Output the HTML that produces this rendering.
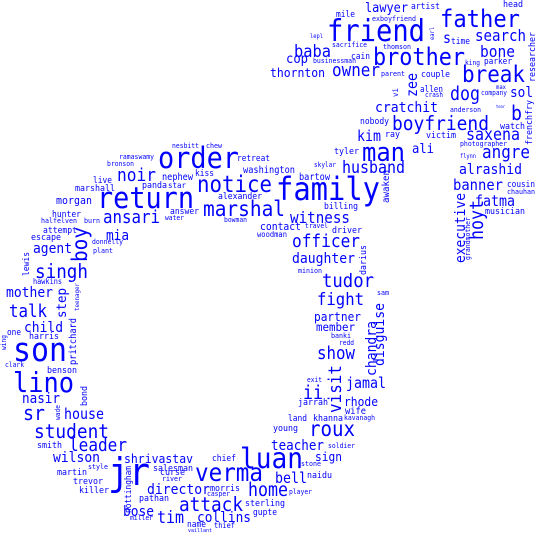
<!DOCTYPE html>
<html><head><meta charset="utf-8"><style>
html,body{margin:0;padding:0;background:#fff;}
svg{display:block;}
text{font-family:"DejaVu Sans Mono","Liberation Mono",monospace;fill:#0000ff;}
</style></head><body>
<svg id="cloud" width="538" height="538" viewBox="0 0 538 538" xmlns="http://www.w3.org/2000/svg">
<rect width="538" height="538" fill="#fff"/>
</svg>
<script>
const words=["family","friend","father","brother","break","return","order","notice","marshal","man","boyfriend","son","lino","jr","luan","verma","attack","collins","tim","director","leader","student","sr","house","nasir","wilson","shrivastav","bose","pathan","morris","home","sterling","gupte","bell","teacher","roux","sign","naidu","player","stone","soldier","young","land","khanna","kavanagh","jarrah","rhode","wife","ii","exit","jamal","show","redd","banki","member","partner","fight","sam","tudor","minion","daughter","officer","driver","travel","witness","contact","woodman","billing","bartow","husband","skylar","tyler","kim","ray","nobody","cratchit","owner","thornton","parent","couple","cop","baba","businessman","cain","sacrifice","thomson","lepl","mile","exboyfriend","lawyer","artist","head","s","time","search","bone","king","parker","dog","sol","allen","max","company","crash","anderson","tear","b","watch","victim","saxena","photographer","ali","angre","flynn","alrashid","banner","cousin","chauhan","fatma","musician","washington","retreat","alexander","kiss","nephew","panda","star","noir","live","marshall","morgan","ansari","answer","hunter","halfelven","burn","water","bowman","mia","attempt","escape","donnelly","plant","agent","ramaswamy","bronson","nesbitt","chew","singh","hawkins","mother","talk","child","one","harris","clark","benson","smith","martin","style","chief","salesman","curse","river","trevor","killer","miller","name","thief","vaillant","casper",
"boy","lewis","step","teenager","pritchard","wing","bond","wade","nottingham","zee","chandra","disguise","visit","awaken","darius","executive","hoyt","grandmother","researcher","frenchfry","vi","earl"];
const xs=[276,327,440,373,462,97,158,197,203,362,392,13,13,108,240,195,179,197,157,147,69,34,23,64,22,53,124,123,139,210,248,245,253,275,271,309,315,307,289,301,328,273,288,313,344,298,344,345,303,307,346,317,339,331,316,314,317,377,322,298,292,292,332,305,290,260,257,324,299,342,314,334,357,385,360,375,332,270,381,421,286,294,313,351,332,383,310,336,372,365,411,503,443,451,475,480,465,484,450,510,420,496,481,425,450,496,511,500,426,466,460,412,482,460,459,453,507,507,475,485,243,237,218,195,162,142,168,117,93,75,56,103,170,52,41,84,165,224,106,43,31,92,93,33,119,107,172,206,35,33,6,9,24,7,29,5,47,37,57,88,212,153,160,162,73,79,130,187,214,188,207,
87,29,66,79,76,6,87,60,131,417,376,384,341,389,366,465,483,470,535,532,398,434];
const ys=[200,41,27,65,82,208,168,192,216,161,130,361,392,485,468,481,511,522,523,494,451,438,420,419,403,462,463,516,501,491,496,506,515,483,450,436,461,478,494,466,448,431,421,421,420,405,406,414,399,382,388,359,345,338,331,321,305,295,287,273,263,247,233,228,223,230,237,209,180,173,167,154,141,137,124,112,76,77,76,77,63,57,63,59,47,49,38,17,21,12,9,7,43,44,41,57,65,64,100,97,92,89,95,97,112,108,120,129,138,140,146,153,158,158,174,190,187,194,206,214,173,161,199,176,180,188,188,181,183,191,204,223,214,217,223,223,220,222,240,233,240,244,253,253,159,166,148,148,278,284,297,317,332,335,339,367,373,448,475,469,461,471,475,481,484,493,520,527,528,532,496,
262,276,318,311,365,350,406,420,513,97,376,366,413,203,275,263,240,260,82,145,97,40];
const ws=[104,98,80,92,63,97,81,75,82,43,97,54,61,42,63,68,64,54,27,63,58,75,22,40,38,47,69,31,30,30,40,40,24,32,53,46,27,25,23,20,27,25,19,30,31,30,34,21,20,15,40,38,15,20,39,47,47,12,52,24,63,68,30,23,60,41,30,34,31,63,22,25,24,15,29,63,48,55,24,29,22,37,43,19,35,28,13,19,44,43,29,20,8,19,51,35,15,28,30,23,23,10,26,18,31,9,11,25,30,54,47,22,48,16,63,50,28,28,40,40,52,33,44,19,31,25,18,39,19,40,36,57,29,29,36,16,19,23,23,34,30,31,20,39,35,27,27,16,53,29,47,38,39,14,30,19,30,25,30,20,24,40,25,20,30,30,23,19,21,24,23,
35,24,30,28,47,15,20,15,47,24,55,63,48,33,30,70,40,43,50,45,9,13];
const rotatedFrom=words.indexOf("boy");
const svg=document.getElementById('cloud');
const NS="http://www.w3.org/2000/svg";
for(let i=0;i<words.length;i++){
  const t=document.createElementNS(NS,'text');
  const w=words[i];
  const fs=1.1*ws[i]/(w.length*0.602);
  t.setAttribute('x',xs[i]);
  t.setAttribute('y',ys[i]);
  t.setAttribute('font-size',fs.toFixed(2));
  t.setAttribute('textLength',ws[i]);
  t.setAttribute('lengthAdjust','spacingAndGlyphs');
  if(i>=rotatedFrom){t.setAttribute('transform','rotate(-90 '+xs[i]+' '+ys[i]+')');}
  t.textContent=w;
  
  
  svg.appendChild(t);
}
</script>
</body></html>
